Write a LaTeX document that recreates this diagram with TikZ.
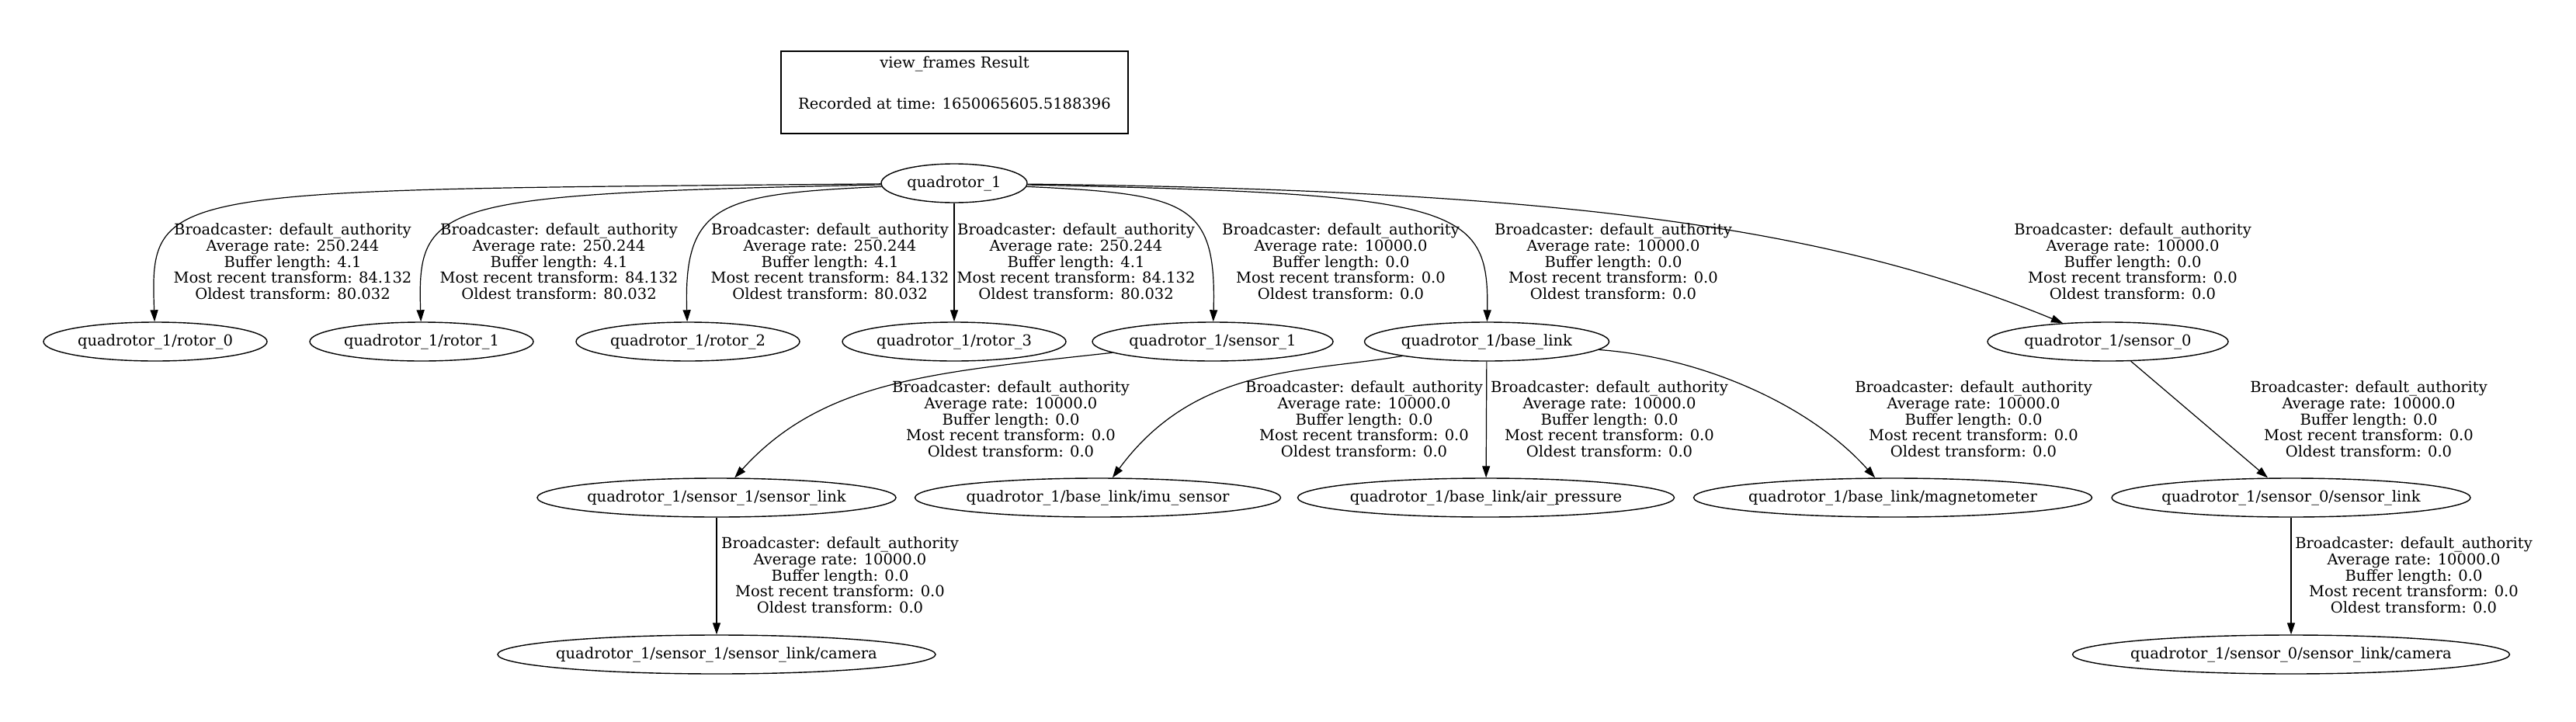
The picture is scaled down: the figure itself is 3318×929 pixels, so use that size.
\documentclass[tikz,border=0pt]{standalone}
\usepackage{fontspec}
\setmainfont{DejaVu Serif}
\usetikzlibrary{arrows.meta,shapes.geometric}

\newcommand{\rotorinfo}{Broadcaster: default\_authority\\Average rate: 250.244\\Buffer length: 4.1\\Most recent transform: 84.132\\Oldest transform: 80.032}
\newcommand{\staticinfo}{Broadcaster: default\_authority\\Average rate: 10000.0\\Buffer length: 0.0\\Most recent transform: 0.0\\Oldest transform: 0.0}

\begin{document}
\begin{tikzpicture}[x=1pt, y=-1pt, font=\fontsize{19.5}{20.7}\selectfont,
    frame/.style={draw, ellipse, line width=1.4pt, minimum height=50pt, inner xsep=-20pt, inner ysep=0pt},
    tf/.style={-{Triangle[length=15pt,width=10pt]}, line width=1.2pt},
    info/.style={align=center, inner sep=0pt}]
\useasboundingbox (0,0) rectangle (3318,929);

% title box
\node[draw, line width=2.2pt, minimum width=447pt, minimum height=106pt] (title) at (1229.5,119) {};
\node (title_a) at (1229.5,82) {view\_frames Result};
\node (title_b) at (1229.5,133) {Recorded at time: 1650065605.5188396};

% frames
\node[frame, minimum width=188pt] (q) at (1229,236) {quadrotor\_1};
\node[frame, minimum width=288pt] (r0) at (200,440) {quadrotor\_1/rotor\_0};
\node[frame, minimum width=288pt] (r1) at (543,440) {quadrotor\_1/rotor\_1};
\node[frame, minimum width=288pt] (r2) at (886,440) {quadrotor\_1/rotor\_2};
\node[frame, minimum width=288pt] (r3) at (1229,440) {quadrotor\_1/rotor\_3};
\node[frame, minimum width=310pt] (s1) at (1562,440) {quadrotor\_1/sensor\_1};
\node[frame, minimum width=315pt] (bl) at (1915,440) {quadrotor\_1/base\_link};
\node[frame, minimum width=310pt] (s0) at (2715,440) {quadrotor\_1/sensor\_0};
\node[frame, minimum width=462pt] (s1l) at (923,641) {quadrotor\_1/sensor\_1/sensor\_link};
\node[frame, minimum width=471pt] (imu) at (1414,641) {quadrotor\_1/base\_link/imu\_sensor};
\node[frame, minimum width=485pt] (air) at (1914,641) {quadrotor\_1/base\_link/air\_pressure};
\node[frame, minimum width=513pt] (mag) at (2438,641) {quadrotor\_1/base\_link/magnetometer};
\node[frame, minimum width=462pt] (s0l) at (2951,641) {quadrotor\_1/sensor\_0/sensor\_link};
\node[frame, minimum width=564pt] (s1cam) at (923,843) {quadrotor\_1/sensor\_1/sensor\_link/camera};
\node[frame, minimum width=563pt] (s0cam) at (2951,843) {quadrotor\_1/sensor\_0/sensor\_link/camera};

% transforms
\draw[tf] (q) .. controls (200,245) and (193,240) .. (r0);
\draw[tf] (q) .. controls (560,250) and (537,260) .. (r1);
\draw[tf] (q) .. controls (930,250) and (880,260) .. (r2);
\draw[tf] (q) -- (r3);
\draw[tf] (q) .. controls (1530,250) and (1567,260) .. (s1);
\draw[tf] (q) .. controls (1880,250) and (1918,265) .. (bl);
\draw[tf] (q) .. controls (2000,245) and (2350,290) .. (s0);
\draw[tf] (s1) .. controls (1200,480) and (1060,490) .. (s1l);
\draw[tf] (bl) .. controls (1680,480) and (1540,470) .. (imu);
\draw[tf] (bl) -- (air);
\draw[tf] (bl) .. controls (2190,460) and (2330,520) .. (mag);
\draw[tf] (s0) -- (s0l);
\draw[tf] (s1l) -- (s1cam);
\draw[tf] (s0l) -- (s0cam);

% edge labels
\node[info] (l_r0) at (377,337) {\rotorinfo};
\node[info] (l_r1) at (720,337) {\rotorinfo};
\node[info] (l_r2) at (1069,337) {\rotorinfo};
\node[info] (l_r3) at (1386,337) {\rotorinfo};
\node[info] (l_s1) at (1727,337) {\staticinfo};
\node[info] (l_bl) at (2078,337) {\staticinfo};
\node[info] (l_s0) at (2747,337) {\staticinfo};
\node[info] (l_s1l) at (1302,540) {\staticinfo};
\node[info] (l_imu) at (1757,540) {\staticinfo};
\node[info] (l_air) at (2073,540) {\staticinfo};
\node[info] (l_mag) at (2542,540) {\staticinfo};
\node[info] (l_s0l) at (3051,540) {\staticinfo};
\node[info] (l_s1cam) at (1082,741) {\staticinfo};
\node[info] (l_s0cam) at (3109,741) {\staticinfo};
\end{tikzpicture}
\end{document}
